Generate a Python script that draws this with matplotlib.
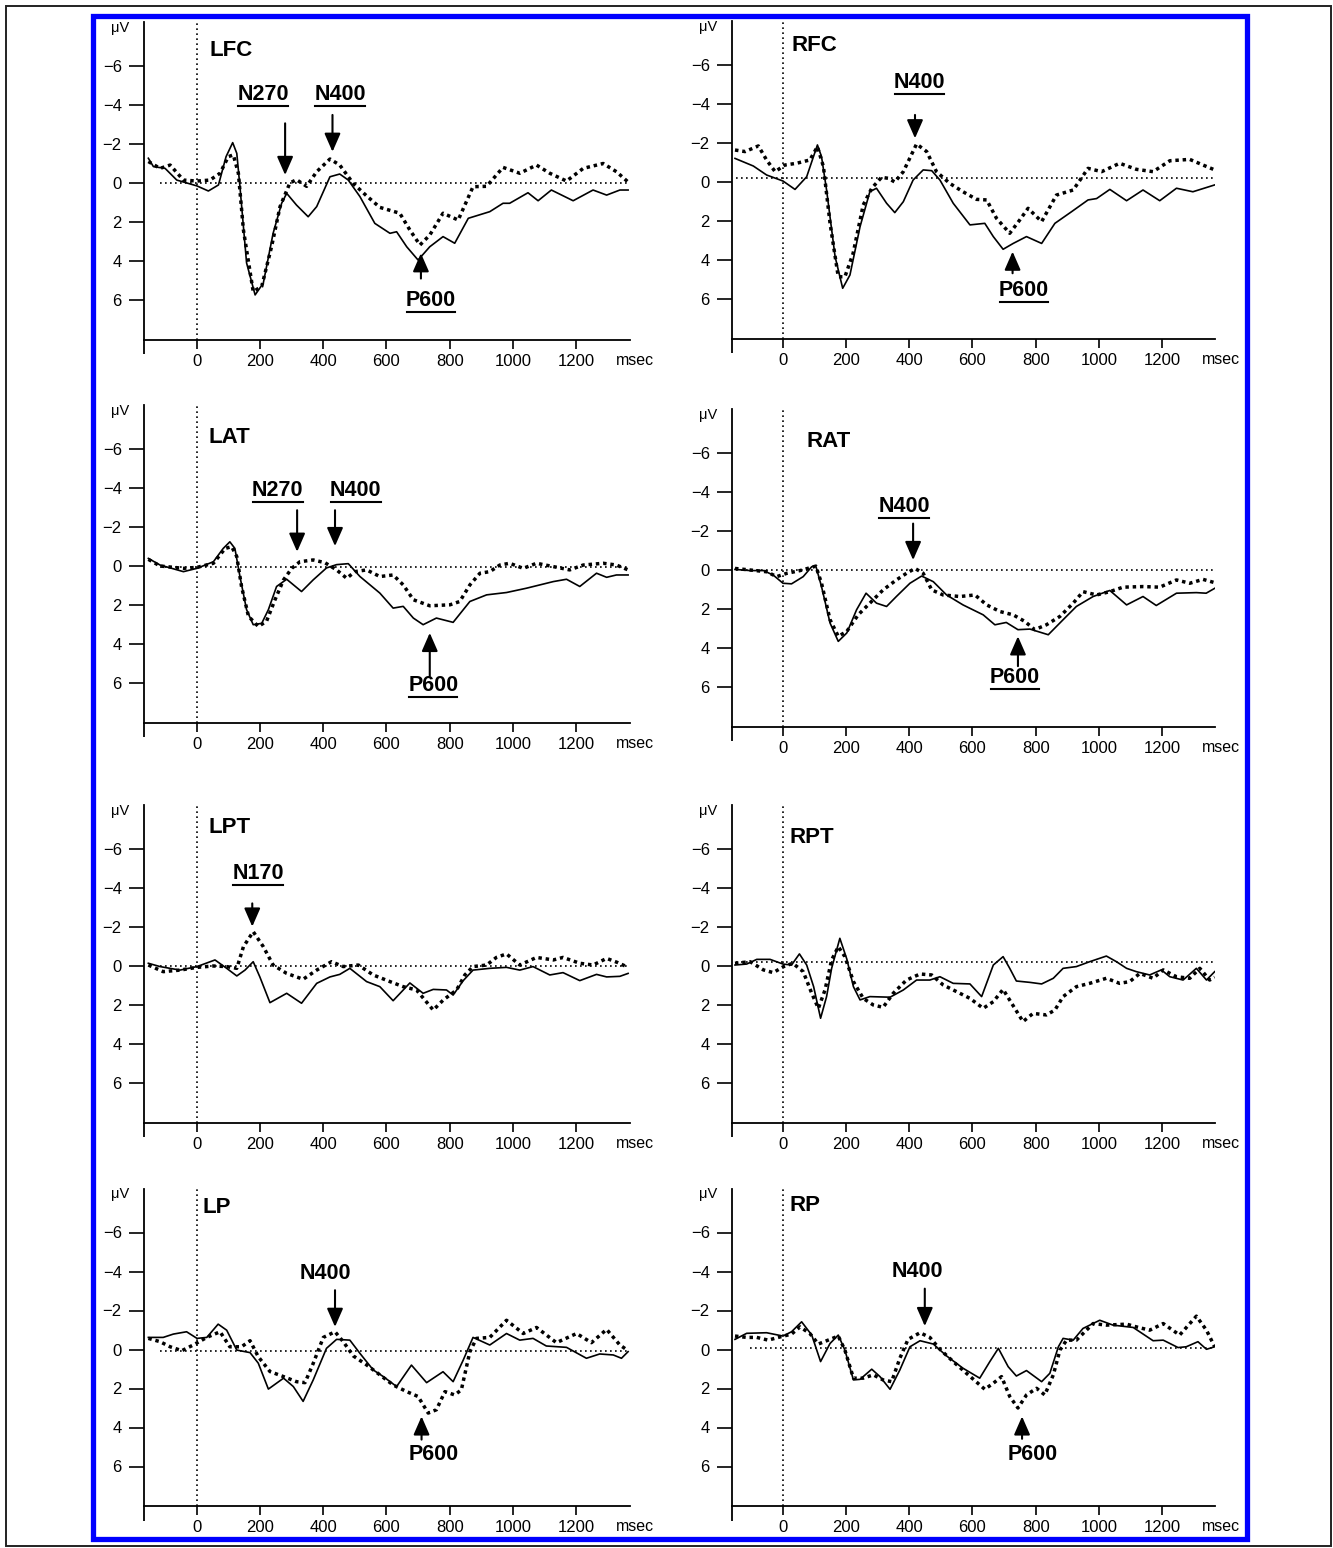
import matplotlib.pyplot as plt
from matplotlib.lines import Line2D
from matplotlib.patches import Rectangle

plt.rcParams['font.family'] = ['Liberation Sans', 'DejaVu Sans']

# ---- waveforms (time in ms, amplitude in microvolts, negative up)
lfc_t_solid = [-154, -138, -101, -64, 0, 36, 68, 92, 113, 126, 136, 157, 184, 210, 241, 268, 284, 315, 352, 379,
               421, 452, 479, 516, 563, 611, 632, 664, 700, 737, 779, 816, 859, 927, 969, 990, 1048, 1080, 1122,
               1191, 1254, 1297, 1339, 1365]
lfc_v_solid = [-1.27, -0.84, -0.75, -0.15, 0.15, 0.41, 0.10, -1.35, -2.07, -1.52, 0.19, 4.10, 5.74, 5.13, 2.58,
               1.04, 0.53, 1.13, 1.73, 1.21, -0.32, -0.46, -0.15, 0.70, 2.07, 2.58, 2.50, 3.27, 3.95, 3.27, 2.75,
               3.09, 1.81, 1.47, 1.04, 1.04, 0.50, 0.91, 0.36, 0.91, 0.36, 0.62, 0.36, 0.36]
lfc_t_dot = [-154, -117, -85, -43, 0, 41, 73, 99, 115, 131, 147, 178, 205, 236, 263, 294, 315, 347, 379, 421, 452,
             495, 537, 579, 642, 674, 706, 737, 779, 827, 874, 917, 969, 1022, 1075, 1117, 1170, 1223, 1286, 1328, 1365]
lfc_v_dot = [-1.10, -0.75, -0.92, -0.15, -0.10, -0.15, -0.50, -1.35, -1.44, -0.50, 2.41, 5.57, 5.30, 3.27, 1.21,
             0.00, -0.17, 0.17, -0.58, -1.23, -0.92, 0.03, 0.66, 1.25, 1.55, 2.41, 3.18, 2.67, 1.55, 1.90, 0.19,
             0.17, -0.80, -0.50, -0.92, -0.50, -0.10, -0.75, -1.00, -0.58, -0.05]

rfc_t_solid = [-152, -94, -52, 0, 38, 75, 109, 122, 138, 165, 189, 212, 244, 275, 296, 328, 354, 381, 412, 444, 471,
               497, 539, 592, 639, 666, 697, 729, 771, 819, 861, 914, 966, 993, 1035, 1088, 1140, 1193, 1246, 1298, 1367]
rfc_v_solid = [-1.21, -0.82, -0.36, -0.05, 0.38, -0.27, -1.90, -1.30, 0.41, 3.83, 5.45, 4.77, 2.29, 0.50, 0.32,
               1.09, 1.57, 1.01, -0.10, -0.62, -0.58, -0.10, 1.09, 2.20, 2.12, 2.80, 3.45, 3.15, 2.80, 3.15, 2.12,
               1.52, 0.92, 0.85, 0.38, 0.96, 0.41, 0.96, 0.32, 0.50, 0.15]
rfc_t_dot = [-152, -120, -78, -52, -25, 6, 43, 85, 109, 128, 149, 175, 196, 222, 254, 281, 312, 333, 354, 381, 423,
             455, 486, 528, 570, 613, 645, 676, 718, 750, 776, 819, 866, 919, 966, 1009, 1066, 1119, 1172, 1225,
             1288, 1330, 1367]
rfc_v_dot = [-1.64, -1.56, -1.85, -1.13, -0.53, -0.87, -0.96, -1.13, -1.81, -0.79, 2.12, 4.86, 4.86, 3.66, 1.18,
             0.32, -0.24, -0.19, 0.00, -0.53, -1.95, -1.56, -0.53, 0.07, 0.50, 0.89, 0.92, 1.86, 2.63, 1.94, 1.35,
             2.03, 0.67, 0.41, -0.70, -0.53, -0.96, -0.65, -0.53, -1.09, -1.16, -0.87, -0.62]

lat_t_solid = [-154, -117, -43, 0, 52, 83, 104, 120, 136, 157, 178, 205, 226, 252, 284, 331, 368, 410, 442, 479, 516,
               579, 621, 653, 685, 716, 758, 811, 864, 917, 980, 1043, 1128, 1170, 1212, 1265, 1297, 1328, 1365]
lat_v_solid = [-0.39, -0.05, 0.29, 0.12, -0.22, -0.90, -1.24, -0.90, 0.54, 2.24, 3.01, 2.94, 2.24, 1.05, 0.68,
               1.31, 0.71, 0.10, -0.07, -0.12, 0.54, 1.39, 2.16, 2.07, 2.67, 3.01, 2.67, 2.89, 1.82, 1.48, 1.36,
               1.14, 0.80, 0.68, 1.05, 0.37, 0.58, 0.46, 0.46]
lat_t_dot = [-154, -117, -43, 0, 52, 89, 110, 126, 141, 163, 194, 220, 247, 274, 300, 326, 368, 405, 442, 474, 500,
             537, 579, 621, 653, 685, 737, 801, 832, 864, 896, 927, 959, 990, 1033, 1075, 1128, 1180, 1223, 1286,
             1328, 1365]
lat_v_dot = [-0.34, 0.00, 0.12, 0.07, -0.14, -0.90, -0.99, -0.48, 1.05, 2.58, 3.10, 2.84, 1.73, 0.71, 0.12, -0.22,
             -0.31, -0.17, 0.20, 0.63, 0.29, 0.20, 0.54, 0.46, 0.97, 1.73, 2.04, 1.99, 1.82, 0.97, 0.37, 0.29,
             -0.05, -0.14, 0.12, -0.14, 0.03, 0.20, -0.05, -0.14, -0.05, 0.20]

rat_t_solid = [-152, -104, -62, -31, 0, 27, 64, 91, 104, 122, 149, 175, 202, 233, 263, 296, 328, 359, 402, 439, 476,
               518, 570, 634, 671, 707, 744, 782, 840, 887, 929, 982, 1035, 1088, 1140, 1182, 1246, 1309, 1340, 1367]
rat_v_solid = [-0.03, 0.03, 0.03, 0.26, 0.68, 0.71, 0.34, -0.17, -0.20, 0.85, 2.72, 3.66, 3.23, 2.04, 1.19, 1.70,
               1.87, 1.36, 0.68, 0.31, 0.60, 1.28, 1.79, 2.30, 2.81, 2.69, 3.06, 3.03, 3.32, 2.55, 1.87, 1.36, 1.05,
               1.79, 1.36, 1.82, 1.19, 1.16, 1.19, 0.94]
rat_t_dot = [-152, -104, -52, -20, 12, 54, 91, 104, 122, 149, 175, 202, 238, 275, 317, 359, 391, 418, 444, 471, 507,
             560, 608, 645, 687, 729, 766, 797, 834, 877, 919, 950, 993, 1035, 1077, 1140, 1193, 1246, 1288, 1330, 1367]
rat_v_dot = [-0.08, 0.00, 0.09, 0.34, 0.17, 0.03, -0.14, -0.20, 0.68, 2.55, 3.40, 3.15, 2.30, 1.70, 1.02, 0.51,
             0.17, -0.08, 0.17, 1.02, 1.28, 1.36, 1.28, 1.79, 2.13, 2.30, 2.64, 3.06, 2.81, 2.38, 1.70, 1.11, 1.28,
             1.11, 0.88, 0.85, 0.88, 0.51, 0.68, 0.48, 0.65]

lpt_t_solid = [-154, -117, -54, 0, 57, 94, 126, 152, 178, 199, 231, 284, 331, 379, 421, 452, 484, 537, 579, 621, 674,
               716, 748, 790, 811, 843, 874, 927, 980, 1022, 1064, 1117, 1159, 1212, 1265, 1297, 1339, 1365]
lpt_v_solid = [-0.14, 0.03, 0.21, 0.03, -0.31, 0.12, 0.51, 0.21, -0.22, 0.56, 1.88, 1.40, 1.91, 0.89, 0.56, 0.43,
               0.12, 0.80, 1.06, 1.78, 0.87, 1.40, 1.20, 1.23, 1.49, 0.75, 0.21, 0.12, 0.07, 0.21, 0.03, 0.46, 0.34,
               0.75, 0.43, 0.56, 0.53, 0.38]
lpt_t_dot = [-154, -107, -54, 0, 52, 94, 126, 147, 178, 210, 241, 284, 336, 379, 426, 463, 511, 558, 611, 653, 695,
             748, 780, 822, 848, 874, 917, 948, 980, 1022, 1075, 1128, 1159, 1212, 1254, 1297, 1333, 1365]
lpt_v_dot = [-0.05, 0.29, 0.21, 0.07, 0.00, 0.03, 0.12, -0.99, -1.76, -0.99, -0.05, 0.38, 0.68, 0.21, -0.22, 0.03,
             -0.05, 0.46, 0.80, 1.06, 1.23, 2.26, 1.74, 1.23, 0.46, 0.03, -0.05, -0.44, -0.62, -0.05, -0.44, -0.31,
             -0.44, -0.14, -0.05, -0.39, -0.17, 0.07]

rpt_t_solid = [-152, -115, -83, -41, 0, 27, 52, 75, 97, 119, 138, 154, 180, 202, 223, 244, 275, 339, 381, 423, 465,
               497, 539, 592, 629, 666, 697, 718, 739, 782, 819, 856, 887, 929, 971, 1024, 1056, 1088, 1119, 1161,
               1198, 1225, 1267, 1309, 1341, 1367]
rpt_v_solid = [-0.05, -0.10, -0.34, -0.34, -0.10, -0.05, -0.62, -0.05, 1.06, 2.68, 1.57, 0.12, -1.42, -0.36, 1.06,
               1.74, 1.57, 1.60, 1.23, 0.72, 0.72, 0.55, 0.89, 0.92, 1.57, -0.05, -0.48, 0.12, 0.77, 0.84, 0.92,
               0.63, 0.12, 0.03, -0.22, -0.51, -0.22, 0.12, 0.29, 0.46, 0.20, 0.55, 0.72, 0.12, 0.72, 0.29]
rpt_t_dot = [-152, -104, -62, -31, 2, 31, 64, 91, 112, 133, 154, 175, 196, 223, 254, 286, 317, 349, 391, 434, 471,
             507, 549, 592, 634, 666, 697, 724, 760, 792, 834, 861, 887, 929, 971, 1024, 1066, 1098, 1130, 1172,
             1204, 1246, 1288, 1320, 1351, 1367]
rpt_v_dot = [-0.14, -0.22, 0.20, 0.34, 0.03, -0.14, 0.29, 1.40, 2.17, 1.23, -0.31, -0.99, -0.48, 0.80, 1.66, 2.00,
             2.12, 1.40, 0.72, 0.41, 0.46, 0.97, 1.31, 1.66, 2.17, 1.83, 1.20, 1.91, 2.85, 2.43, 2.51, 2.26, 1.57,
             1.06, 0.89, 0.63, 0.89, 0.80, 0.38, 0.63, 0.20, 0.55, 0.63, 0.12, 0.72, 0.58]

lp_t_solid = [-154, -107, -75, -33, 0, 31, 67, 94, 126, 168, 194, 226, 274, 305, 336, 368, 410, 442, 484, 516, 558,
              590, 632, 679, 727, 779, 811, 843, 874, 927, 980, 1022, 1064, 1106, 1170, 1233, 1275, 1318, 1344, 1365]
lp_v_solid = [-0.62, -0.62, -0.79, -0.91, -0.57, -0.62, -1.30, -0.99, 0.03, 0.16, 0.70, 2.03, 1.47, 1.90, 2.66,
              1.56, -0.06, -0.52, -0.48, 0.20, 1.05, 1.39, 1.90, 0.80, 1.70, 1.14, 1.65, 0.54, -0.62, -0.23, -0.82,
              -0.48, -0.57, -0.18, -0.11, 0.45, 0.23, 0.28, 0.45, 0.11]
lp_t_dot = [-154, -117, -85, -48, -12, 31, 73, 104, 141, 168, 194, 231, 274, 315, 342, 368, 400, 437, 463, 495, 537,
            579, 621, 664, 700, 732, 758, 785, 816, 837, 864, 885, 927, 980, 1033, 1075, 1138, 1202, 1249, 1297,
            1339, 1365]
lp_v_dot = [-0.57, -0.40, -0.14, 0.06, -0.23, -0.62, -0.91, -0.14, -0.14, -0.45, 0.37, 1.13, 1.39, 1.65, 1.70, 0.71,
            -0.62, -0.91, -0.40, 0.33, 0.79, 1.30, 1.82, 2.16, 2.41, 3.26, 3.09, 2.16, 2.33, 2.07, 0.11, -0.57,
            -0.62, -1.50, -0.82, -1.13, -0.35, -0.82, -0.35, -1.03, -0.23, 0.06]

rp_t_solid = [-152, -115, -52, 0, 27, 59, 91, 119, 149, 175, 196, 223, 244, 281, 307, 339, 370, 402, 434, 476, 518,
              570, 623, 655, 682, 713, 739, 771, 819, 845, 872, 887, 919, 950, 1003, 1045, 1109, 1172, 1204, 1251,
              1277, 1314, 1341, 1367]
rp_v_solid = [-0.52, -0.83, -0.86, -0.69, -0.91, -1.42, -0.74, 0.62, -0.31, -0.74, 0.03, 1.56, 1.53, 1.01, 1.39,
              2.04, 1.05, -0.14, -0.45, -0.28, 0.33, 0.96, 1.47, 0.62, -0.06, 0.88, 1.36, 1.08, 1.65, 1.22, -0.14,
              -0.57, -0.48, -1.08, -1.50, -1.25, -1.13, -0.45, -0.48, -0.10, -0.14, -0.40, -0.01, -0.14]
rp_t_dot = [-152, -115, -83, -47, -8, 27, 54, 85, 112, 149, 175, 196, 223, 254, 286, 317, 344, 370, 396, 434, 465,
            497, 539, 581, 639, 666, 692, 718, 744, 771, 803, 829, 856, 877, 898, 929, 982, 1024, 1088, 1119, 1161,
            1204, 1256, 1309, 1341, 1367]
rp_v_dot = [-0.69, -0.62, -0.62, -0.48, -0.65, -0.79, -1.16, -0.82, -0.28, -0.52, -0.69, 0.03, 1.47, 1.47, 1.30,
            1.56, 1.65, 0.45, -0.52, -0.86, -0.62, -0.01, 0.62, 1.22, 2.04, 1.73, 1.39, 2.41, 3.00, 2.33, 1.99,
            2.33, 1.30, 0.03, -0.48, -0.48, -1.33, -1.25, -1.30, -1.16, -0.99, -1.33, -0.74, -1.71, -0.99, -0.14]

# component labels: (text, label ms, label uV, arrow ms, arrow tail uV, arrow tip uV, underlined)
lfc_marks = [("N270", 209, -4.56, 279, -3.06, -0.41, True),
             ("N400", 453, -4.56, 429, -3.49, -1.6, True),
             ("P600", 741, 6.0, 709, 4.9, 3.6, True)]
rfc_marks = [("N400", 432, -5.08, 418, -3.44, -2.24, True),
             ("P600", 763, 5.54, 727, 4.68, 3.57, True)]
lat_marks = [("N270", 256, -3.88, 317, -2.86, -0.73, True),
             ("N400", 503, -3.88, 437, -2.86, -1.02, True),
             ("P600", 748, 6.12, 737, 5.65, 3.43, True)]
rat_marks = [("N400", 383, -3.27, 412, -2.38, -0.51, True),
             ("P600", 735, 5.5, 744, 4.93, 3.4, True)]
lpt_marks = [("N170", 193, -4.72, 175, -3.21, -2.02, True)]
rpt_marks = []
lp_marks = [("N400", 408, -3.9, 437, -3.04, -1.16, False),
            ("P600", 748, 5.4, 711, 4.62, 3.43, False)]
rp_marks = [("N400", 424, -4.0, 449, -3.12, -1.2, False),
            ("P600", 792, 5.4, 757, 4.58, 3.43, False)]

site_names = ["LFC", "RFC", "LAT", "RAT", "LPT", "RPT", "LP", "RP"]
name_pos = [(41, -6.8), (28, -7.0), (35, -6.6), (73, -6.6), (35, -7.1), (22, -6.6), (16, -7.3), (22, -7.4)]
baseline_level = [0.0, -0.23, 0.05, 0.0, 0.0, -0.22, 0.08, -0.1]
baseline_start = [-117, -150, -117, -150, -117, -150, -117, -104]

panels = [
    (lfc_t_solid, lfc_v_solid, lfc_t_dot, lfc_v_dot, lfc_marks),
    (rfc_t_solid, rfc_v_solid, rfc_t_dot, rfc_v_dot, rfc_marks),
    (lat_t_solid, lat_v_solid, lat_t_dot, lat_v_dot, lat_marks),
    (rat_t_solid, rat_v_solid, rat_t_dot, rat_v_dot, rat_marks),
    (lpt_t_solid, lpt_v_solid, lpt_t_dot, lpt_v_dot, lpt_marks),
    (rpt_t_solid, rpt_v_solid, rpt_t_dot, rpt_v_dot, rpt_marks),
    (lp_t_solid, lp_v_solid, lp_t_dot, lp_v_dot, lp_marks),
    (rp_t_solid, rp_v_solid, rp_t_dot, rp_v_dot, rp_marks),
]

# ---- layout (pixels of the 1333x1548 canvas)
W, H = 1333, 1548
cols = [(144, 630, (-167.8, 1371)), (732, 1215, (-161.5, 1368))]
zero_px = [183, 182, 566, 570, 966, 966, 1349.5, 1349.5]
Y_TOP, Y_BOT, PX_PER_UV = -8.25, 8.05, 19.5

fig = plt.figure(figsize=(W / 100, H / 100), dpi=100)

underlined = []
for i, (ts, vs, td, vd, marks) in enumerate(panels):
    left, right, xlim = cols[i % 2]
    z = zero_px[i]
    top = z + Y_TOP * PX_PER_UV
    bottom = z + Y_BOT * PX_PER_UV
    ax = fig.add_axes([left / W, 1 - bottom / H, (right - left) / W, (bottom - top) / H])
    ax.set_xlim(*xlim)
    ax.set_ylim(Y_BOT, Y_TOP)

    ax.axvline(0, color='black', lw=1.2, ls=(0, (1, 2)))
    ax.hlines(baseline_level[i], baseline_start[i], xlim[1] - 4, color='black', lw=1.2, ls=(0, (1, 2)))
    ax.plot(ts, vs, color='black', lw=1.2, solid_joinstyle='round')
    ax.plot(td, vd, color='black', lw=2.5, ls=(0, (1, 1.1)), dash_capstyle='butt')

    for spine in ['top', 'right']:
        ax.spines[spine].set_visible(False)
    ax.spines['left'].set_linewidth(1.3)
    ax.spines['bottom'].set_linewidth(1.3)
    # the vertical axis runs a little past the time axis
    ax.plot([0, 0], [0, -0.045], transform=ax.transAxes, color='black', lw=1.3, clip_on=False,
            solid_capstyle='butt')

    ax.set_yticks([-6, -4, -2, 0, 2, 4, 6])
    ax.set_xticks([0, 200, 400, 600, 800, 1000, 1200])
    ax.tick_params(axis='y', direction='out', length=11, width=1.2, pad=5, labelsize=12)
    ax.tick_params(axis='x', direction='out', length=6.5, width=1.2, pad=3.5, labelsize=12)

    ax.annotate('μV', xy=(0, 1), xycoords='axes fraction', xytext=(-17, -4), textcoords='offset points',
                ha='center', va='center', fontsize=10.5)
    ax.annotate('msec', xy=(1388, 0), xycoords=('data', 'axes fraction'), xytext=(0, -14.5),
                textcoords='offset points', ha='center', va='center', fontsize=11.5, annotation_clip=False)

    nx, ny = name_pos[i]
    ax.text(nx, ny, site_names[i], ha='left', va='center', fontsize=16, fontweight='bold')

    for label, lx, ly, axx, tail, tip, uline in marks:
        t = ax.text(lx, ly, label, ha='center', va='center', fontsize=15.5, fontweight='bold')
        if uline:
            underlined.append(t)
        ax.annotate('', xy=(axx, tip), xytext=(axx, tail),
                    arrowprops=dict(arrowstyle='-|>,head_length=0.8,head_width=0.35', lw=1.5,
                                    color='black', shrinkA=0, shrinkB=0, mutation_scale=14))

# underline the component names
fig.canvas.draw()
renderer = fig.canvas.get_renderer()
to_fig = fig.transFigure.inverted()
for t in underlined:
    bb = t.get_window_extent(renderer)
    (x0, y0), (x1, _) = to_fig.transform([(bb.x0 + 1, bb.y0 - 1), (bb.x1 - 1, bb.y0 - 1)])
    fig.add_artist(Line2D([x0, x1], [y0, y0], transform=fig.transFigure, color='black', lw=1.5))

# frames
fig.add_artist(Rectangle((6 / W, 1 - 1546 / H), (1330.5 - 6) / W, (1546 - 6) / H, transform=fig.transFigure,
                         fill=False, edgecolor='#222222', lw=1.4))
fig.add_artist(Rectangle((93 / W, 1 - 1539 / H), (1247 - 93) / W, (1539 - 16) / H, transform=fig.transFigure,
                         fill=False, edgecolor='#0000ff', lw=3.8))

fig.savefig('out.png', dpi=100)
